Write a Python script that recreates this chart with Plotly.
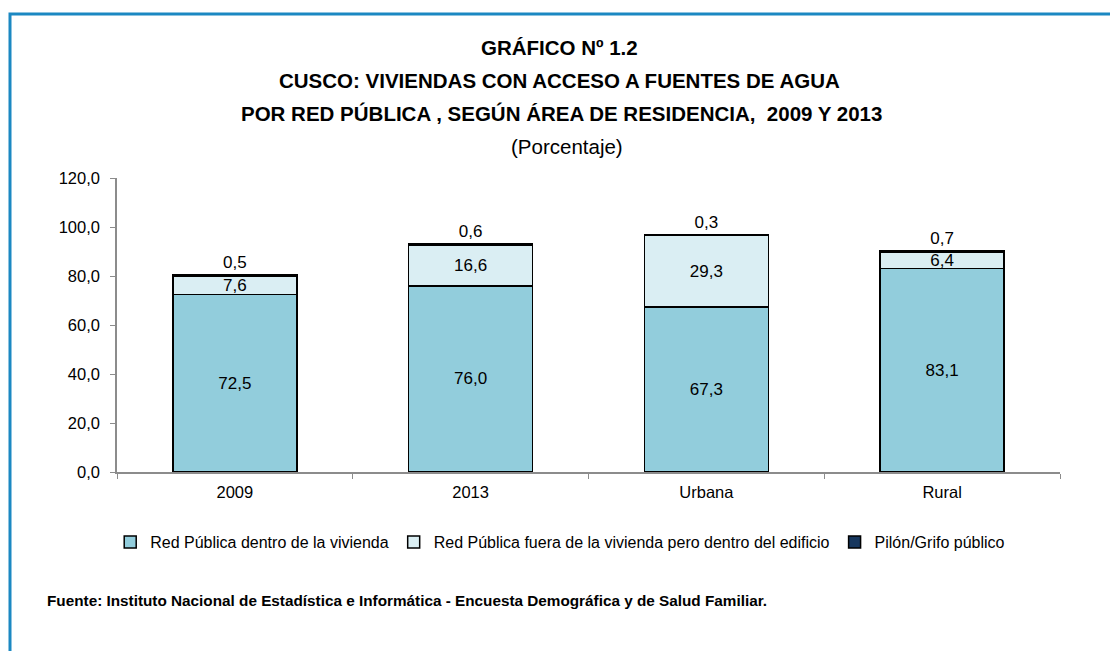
import plotly.graph_objects as go

categories = ["2009", "2013", "Urbana", "Rural"]
dentro = [72.5, 76.0, 67.3, 83.1]
fuera = [7.6, 16.6, 29.3, 6.4]
pilon = [0.5, 0.6, 0.3, 0.7]
series_names = ["Red Pública dentro de la vivienda",
                "Red Pública fuera de la vivienda pero dentro del edificio",
                "Pilón/Grifo público"]
y_ticks = [0, 20, 40, 60, 80, 100, 120]

FONT = "Liberation Sans Narrow, Arial Narrow, Liberation Sans, Arial, sans-serif"

OFF = 8  # page body margin
W, H = 1118 - OFF, 651 - OFF
ML, MR, MT, MB = 117 - OFF, 58, 178 - OFF, 179
PW = W - ML - MR
PH = H - MT - MB

def px(x):
    return (x - OFF - ML) / PW

def py(y):
    return (H - MB - (y - OFF)) / PH

fig = go.Figure()
colors = ["#92CDDC", "#DAEEF3", "#17375E"]
for vals, name, col, pos in [(dentro, series_names[0], colors[0], "inside"),
                             (fuera, series_names[1], colors[1], "inside"),
                             (pilon, series_names[2], colors[2], "outside")]:
    fig.add_trace(go.Bar(
        x=categories, y=vals, name=name,
        marker=dict(color=col, line=dict(color="#000000", width=1.5)),
        text=vals, texttemplate="%{y:.1f}", textposition=pos,
        insidetextanchor="middle", textangle=0, constraintext="none",
        textfont=dict(family=FONT, size=17, color="#000000"),
        cliponaxis=False,
    ))

fig.update_layout(
    width=W, height=H, barmode="stack", bargap=0.475,
    separators=",.",
    margin=dict(l=ML, r=MR, t=MT, b=MB, autoexpand=False),
    paper_bgcolor="white", plot_bgcolor="white",
    font=dict(family=FONT, size=17, color="#000000"),
    xaxis=dict(showline=True, linecolor="#8c8c8c", linewidth=1.5,
               ticks="outside", tickson="boundaries", ticklen=5,
               tickcolor="#8c8c8c", tickfont=dict(size=16.5), showgrid=False,
               ticklabelstandoff=4),
    yaxis=dict(range=[0, 120], tickvals=y_ticks, tickformat=".1f",
               showline=True, linecolor="#8c8c8c", linewidth=1.5,
               ticks="outside", ticklen=5, tickcolor="#8c8c8c",
               tickfont=dict(size=16.5), showgrid=False, zeroline=False,
               ticklabelstandoff=7),
    legend=dict(orientation="h", x=0.47, xanchor="center", y=py(542),
                yanchor="middle", font=dict(size=16), traceorder="normal",
                itemwidth=30),
    showlegend=True,
)

title_lines = [("<b>GRÁFICO Nº 1.2</b>", 47, 559),
               ("<b>CUSCO: VIVIENDAS CON ACCESO A FUENTES DE AGUA</b>", 80, 559),
               ("<b>POR RED PÚBLICA , SEGÚN ÁREA DE RESIDENCIA,  2009 Y 2013</b>", 113, 561),
               ("(Porcentaje)", 146, 567)]
for txt, yy, xx in title_lines:
    fig.add_annotation(text=txt, xref="paper", yref="paper", x=px(xx), y=py(yy),
                       xanchor="center", yanchor="middle", showarrow=False,
                       font=dict(family=FONT, size=20.5, color="#000000"))

fig.add_annotation(text="<b>Fuente: Instituto Nacional de Estadística e Informática - Encuesta Demográfica y de Salud Familiar.</b>",
                   xref="paper", yref="paper", x=px(45), y=py(600),
                   xanchor="left", yanchor="middle", showarrow=False,
                   font=dict(family=FONT, size=15.3, color="#000000"))

fig.add_shape(type="rect", xref="paper", yref="paper",
              x0=px(10), x1=px(1125), y0=py(660), y1=py(14),
              line=dict(color="#1B88C2", width=3), fillcolor="rgba(0,0,0,0)",
              layer="below")

fig.write_html("out.html")
